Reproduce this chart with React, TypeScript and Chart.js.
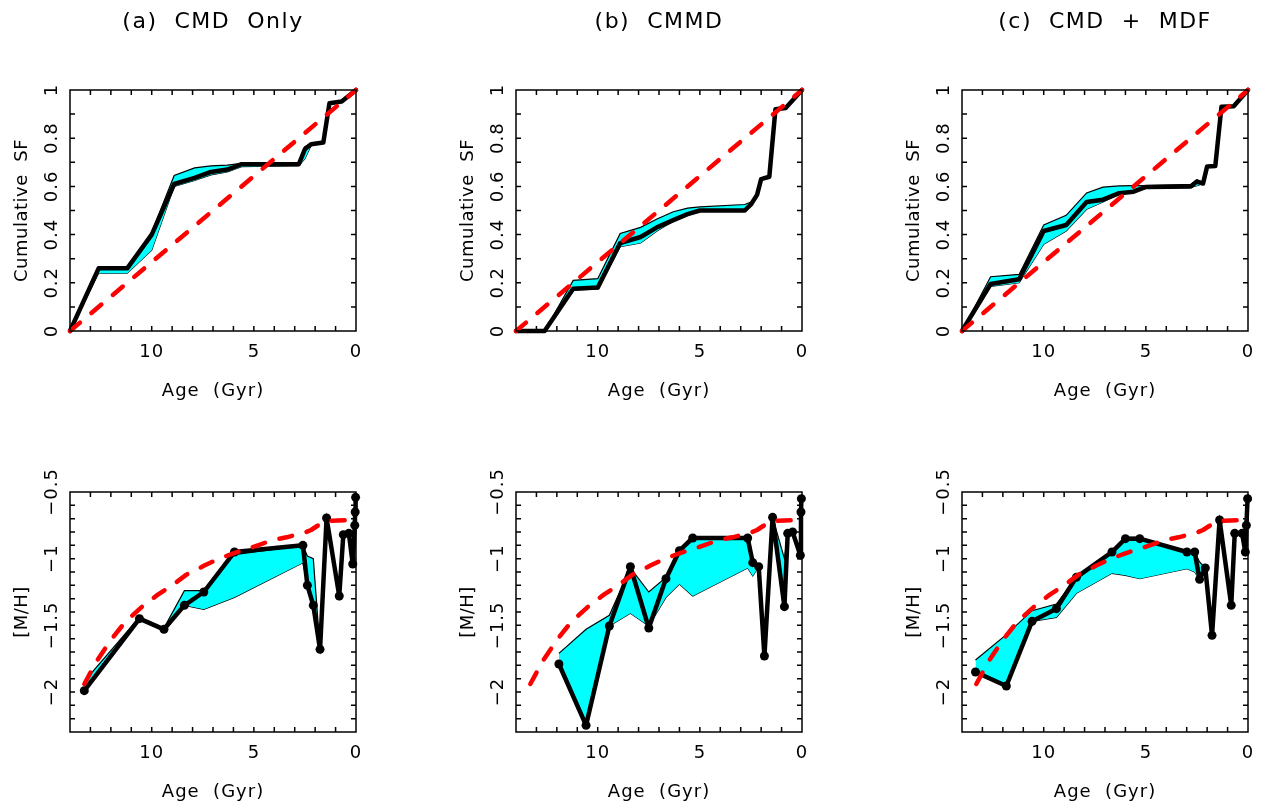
import React, { useEffect, useRef } from "react";
import { Chart, registerables } from "chart.js";

Chart.register(...registerables);

// ---------- tick labels ----------
const AGE_TICKS = [10, 5, 0];
const SF_TICKS = [0, 0.2, 0.4, 0.6, 0.8, 1];
const MH_TICKS = [-2, -1.5, -1, -0.5];
const TITLES = ["(a)  CMD  Only", "(b)  CMMD", "(c)  CMD  +  MDF"];
const X_TITLE = "Age  (Gyr)";
const Y_TITLE_SF = "Cumulative  SF";
const Y_TITLE_MH = "[M/H]";

// ---------- true (input) histories, red dashed ----------
const TRUTH_SF_AGE = [14, 0];
const TRUTH_SF = [0, 1];
const TRUTH_MH_AGE = [13.3, 12.7, 12.0, 11.3, 10.4, 9.7, 9.0, 8.3, 7.4, 6.7, 6.0, 5.3, 4.7, 4.1, 3.4, 2.9, 2.6, 2.2, 1.9, 1.6, 1.2, 0];
const TRUTH_MH = [-1.94, -1.77, -1.61, -1.475, -1.35, -1.27, -1.2, -1.12, -1.05, -1.0, -0.96, -0.925, -0.895, -0.86, -0.84, -0.82, -0.81, -0.785, -0.755, -0.725, -0.715, -0.71];

// ---------- (a) CMD only: cumulative SF ----------
const AGE_SF_A = [14, 12.6, 11.2, 10, 8.9, 7.9, 7.1, 6.3, 5.6, 2.8, 2.5, 2.2, 1.6, 1.3, 0.7, 0];
const SF_A_BEST = [0, 0.26, 0.26, 0.4, 0.61, 0.635, 0.66, 0.67, 0.692, 0.692, 0.755, 0.775, 0.782, 0.945, 0.952, 1];
const SF_A_HI = [0, 0.265, 0.265, 0.41, 0.645, 0.677, 0.685, 0.688, 0.696, 0.698, 0.765, 0.778, 0.785, 0.945, 0.952, 1];
const SF_A_LO = [0, 0.24, 0.24, 0.335, 0.6, 0.625, 0.648, 0.66, 0.682, 0.686, 0.715, 0.77, 0.782, 0.945, 0.952, 1];

// ---------- (b) CMMD: cumulative SF ----------
const AGE_SF_B = [14, 12.6, 11.2, 10, 8.9, 7.9, 7.1, 6.3, 5.6, 5.0, 2.8, 2.5, 2.2, 2.0, 1.6, 1.3, 0.8, 0];
const SF_B_BEST = [0, 0, 0.175, 0.18, 0.365, 0.39, 0.43, 0.46, 0.485, 0.5, 0.5, 0.525, 0.565, 0.63, 0.64, 0.92, 0.925, 1];
const SF_B_HI = [0, 0, 0.21, 0.217, 0.405, 0.43, 0.465, 0.495, 0.51, 0.515, 0.525, 0.535, 0.565, 0.63, 0.64, 0.92, 0.925, 1];
const SF_B_LO = [0, 0, 0.17, 0.175, 0.35, 0.365, 0.415, 0.455, 0.48, 0.497, 0.497, 0.52, 0.565, 0.63, 0.64, 0.92, 0.925, 1];

// ---------- (c) CMD + MDF: cumulative SF ----------
const AGE_SF_C = [14, 12.6, 11.2, 10, 8.9, 7.9, 7.1, 6.3, 5.6, 5.0, 2.8, 2.5, 2.2, 2.0, 1.6, 1.3, 0.7, 0];
const SF_C_BEST = [0, 0.195, 0.215, 0.415, 0.44, 0.535, 0.545, 0.572, 0.578, 0.598, 0.6, 0.62, 0.612, 0.683, 0.685, 0.93, 0.933, 1];
const SF_C_HI = [0, 0.225, 0.235, 0.44, 0.48, 0.573, 0.597, 0.602, 0.603, 0.603, 0.608, 0.628, 0.615, 0.683, 0.685, 0.93, 0.933, 1];
const SF_C_LO = [0, 0.185, 0.2, 0.36, 0.415, 0.505, 0.535, 0.568, 0.576, 0.592, 0.596, 0.603, 0.612, 0.683, 0.685, 0.93, 0.933, 1];

// ---------- (a) CMD only: [M/H] ----------
const AGE_MH_A = [13.3, 10.6, 9.4, 8.4, 7.45, 5.95, 2.6, 2.38, 2.09, 1.76, 1.44, 0.82, 0.62, 0.35, 0.16, 0.06, 0.04, 0.02];
const MH_A_BEST = [-1.99, -1.45, -1.53, -1.35, -1.25, -0.95, -0.9, -1.2, -1.35, -1.68, -0.695, -1.28, -0.82, -0.81, -1.04, -0.75, -0.65, -0.54];
const MH_A_HI = [-1.92, -1.44, -1.52, -1.24, -1.24, -0.97, -0.9, -0.98, -1.0, -1.68, -0.695, -1.28, -0.82, -0.81, -1.04, -0.75, -0.65, -0.54];
const MH_A_LO = [-1.99, -1.46, -1.54, -1.35, -1.38, -1.29, -1.03, -1.2, -1.35, -1.68, -0.695, -1.28, -0.82, -0.81, -1.04, -0.75, -0.65, -0.54];

// ---------- (b) CMMD: [M/H] ----------
const AGE_MH_B = [11.9, 10.57, 9.43, 8.4, 7.5, 6.66, 6.0, 5.35, 2.66, 2.41, 2.12, 1.84, 1.44, 0.86, 0.7, 0.46, 0.08, 0.05, 0.03];
const MH_B_BEST = [-1.79, -2.25, -1.505, -1.06, -1.52, -1.15, -0.94, -0.845, -0.845, -1.03, -1.06, -1.73, -0.69, -1.36, -0.81, -0.8, -0.975, -0.65, -0.55];
const MH_B_HI = [-1.71, -1.53, -1.425, -1.07, -1.25, -1.14, -0.93, -0.84, -0.84, -0.99, -1.06, -1.73, -0.69, -1.0, -0.81, -0.8, -0.975, -0.65, -0.55];
const MH_B_LO = [-1.79, -2.25, -1.505, -1.41, -1.505, -1.29, -1.19, -1.28, -1.07, -1.13, -1.06, -1.73, -0.69, -1.36, -0.81, -0.8, -0.975, -0.65, -0.55];

// ---------- (c) CMD + MDF: [M/H] ----------
const AGE_MH_C = [13.34, 11.83, 10.57, 9.38, 8.4, 6.66, 6.0, 5.3, 2.99, 2.61, 2.37, 2.09, 1.76, 1.39, 0.82, 0.65, 0.29, 0.13, 0.08, 0.02];
const MH_C_BEST = [-1.85, -1.955, -1.47, -1.375, -1.14, -0.95, -0.85, -0.85, -0.95, -0.95, -1.155, -1.07, -1.575, -0.71, -1.35, -0.81, -0.81, -0.95, -0.75, -0.55];
const MH_C_HI = [-1.76, -1.57, -1.39, -1.34, -1.14, -0.95, -0.84, -0.84, -0.95, -0.95, -1.025, -1.07, -1.575, -0.71, -1.35, -0.81, -0.81, -0.95, -0.75, -0.55];
const MH_C_LO = [-1.85, -1.955, -1.47, -1.44, -1.26, -1.11, -1.125, -1.15, -1.075, -1.1, -1.155, -1.07, -1.575, -0.71, -1.35, -0.81, -0.81, -0.95, -0.75, -0.55];

// ---------- layout ----------
const FONT = '"DejaVu Sans", "Liberation Sans", sans-serif';
const COL_LEFT = [0, 446, 892];
const CANVAS_W = 375;
const ROWS = [
  { top: 0, height: 405, pad: { left: 70, right: 19, top: 90, bottom: 74 } },
  { top: 405, height: 404, pad: { left: 70, right: 19, top: 87, bottom: 77 } },
];

type PanelDef = {
  col: number;
  row: number;
  title: string | null;
  yTitle: string;
  yMin: number;
  yMax: number;
  yTicks: number[];
  age: number[];
  best: number[];
  hi: number[];
  lo: number[];
  truthAge: number[];
  truth: number[];
  dots: boolean;
};

const PANELS: PanelDef[] = [
  { col: 0, row: 0, title: TITLES[0], yTitle: Y_TITLE_SF, yMin: 0, yMax: 1, yTicks: SF_TICKS, age: AGE_SF_A, best: SF_A_BEST, hi: SF_A_HI, lo: SF_A_LO, truthAge: TRUTH_SF_AGE, truth: TRUTH_SF, dots: false },
  { col: 1, row: 0, title: TITLES[1], yTitle: Y_TITLE_SF, yMin: 0, yMax: 1, yTicks: SF_TICKS, age: AGE_SF_B, best: SF_B_BEST, hi: SF_B_HI, lo: SF_B_LO, truthAge: TRUTH_SF_AGE, truth: TRUTH_SF, dots: false },
  { col: 2, row: 0, title: TITLES[2], yTitle: Y_TITLE_SF, yMin: 0, yMax: 1, yTicks: SF_TICKS, age: AGE_SF_C, best: SF_C_BEST, hi: SF_C_HI, lo: SF_C_LO, truthAge: TRUTH_SF_AGE, truth: TRUTH_SF, dots: false },
  { col: 0, row: 1, title: null, yTitle: Y_TITLE_MH, yMin: -2.3, yMax: -0.5, yTicks: MH_TICKS, age: AGE_MH_A, best: MH_A_BEST, hi: MH_A_HI, lo: MH_A_LO, truthAge: TRUTH_MH_AGE, truth: TRUTH_MH, dots: true },
  { col: 1, row: 1, title: null, yTitle: Y_TITLE_MH, yMin: -2.3, yMax: -0.5, yTicks: MH_TICKS, age: AGE_MH_B, best: MH_B_BEST, hi: MH_B_HI, lo: MH_B_LO, truthAge: TRUTH_MH_AGE, truth: TRUTH_MH, dots: true },
  { col: 2, row: 1, title: null, yTitle: Y_TITLE_MH, yMin: -2.3, yMax: -0.5, yTicks: MH_TICKS, age: AGE_MH_C, best: MH_C_BEST, hi: MH_C_HI, lo: MH_C_LO, truthAge: TRUTH_MH_AGE, truth: TRUTH_MH, dots: true },
];

const pts = (xs: number[], ys: number[]) => xs.map((x, i) => ({ x, y: ys[i] }));

const fmt = (v: number) => {
  const s = String(Math.round(v * 10) / 10);
  return s.replace("-", "\u2212");
};

function framePlugin(p: PanelDef) {
  return {
    id: "pgframe",
    afterDraw(chart: any) {
      const ctx: CanvasRenderingContext2D = chart.ctx;
      const { left, right, top, bottom } = chart.chartArea;
      const xs = chart.scales.x;
      const ys = chart.scales.y;
      ctx.save();
      ctx.strokeStyle = "#000";
      ctx.lineWidth = 1.5;
      ctx.strokeRect(left, top, right - left, bottom - top);
      const tick = 5;
      ctx.beginPath();
      for (let a = 1; a < 14; a++) {
        const px = xs.getPixelForValue(a);
        ctx.moveTo(px, bottom);
        ctx.lineTo(px, bottom - tick);
        ctx.moveTo(px, top);
        ctx.lineTo(px, top + tick);
      }
      const n = Math.round((p.yMax - p.yMin) * 10);
      for (let k = 1; k < n; k++) {
        const v = p.yMin + k / 10;
        const py = ys.getPixelForValue(v);
        ctx.moveTo(left, py);
        ctx.lineTo(left + tick, py);
        ctx.moveTo(right, py);
        ctx.lineTo(right - tick, py);
      }
      ctx.stroke();

      ctx.fillStyle = "#000";
      ctx.textAlign = "center";
      ctx.textBaseline = "middle";
      ctx.font = `18px ${FONT}`;
      (ctx as any).letterSpacing = "1px";
      for (const v of AGE_TICKS) {
        ctx.fillText(String(v), xs.getPixelForValue(v), bottom + 21);
      }
      ctx.fillText(X_TITLE, (left + right) / 2, bottom + 60);
      for (const v of p.yTicks) {
        ctx.save();
        ctx.translate(left - 18, ys.getPixelForValue(v));
        ctx.rotate(-Math.PI / 2);
        ctx.fillText(fmt(v), 0, 0);
        ctx.restore();
      }
      ctx.save();
      (ctx as any).letterSpacing = "0.5px";
      ctx.translate(left - 48, (top + bottom) / 2);
      ctx.rotate(-Math.PI / 2);
      ctx.fillText(p.yTitle, 0, 0);
      ctx.restore();
      if (p.title) {
        ctx.font = `22px ${FONT}`;
        (ctx as any).letterSpacing = "1.5px";
        ctx.fillText(p.title, (left + right) / 2, 22);
      }
      ctx.restore();
    },
  };
}

function PanelChart({ p }: { p: PanelDef }) {
  const ref = useRef<HTMLCanvasElement>(null);
  const row = ROWS[p.row];
  useEffect(() => {
    if (!ref.current) return;
    const chart = new Chart(ref.current, {
      type: "line",
      data: {
        datasets: [
          {
            data: pts(p.age, p.lo),
            borderColor: "#000",
            borderWidth: 1.2,
            pointRadius: 0,
            fill: false,
            order: 3,
            clip: false as any,
          },
          {
            data: pts(p.age, p.hi),
            borderColor: "#000",
            borderWidth: 1.2,
            pointRadius: 0,
            fill: "-1",
            backgroundColor: "#00ffff",
            order: 2,
            clip: false as any,
          },
          {
            data: pts(p.age, p.best),
            borderColor: "#000",
            borderWidth: 4.5,
            borderJoinStyle: "round",
            borderCapStyle: "round",
            pointRadius: p.dots ? 4.5 : 0,
            pointBackgroundColor: "#000",
            pointBorderColor: "#000",
            pointBorderWidth: 0,
            fill: false,
            order: 1,
            clip: false as any,
          },
          {
            data: pts(p.truthAge, p.truth),
            borderColor: "#ff0000",
            borderWidth: 4.5,
            borderDash: [13, 15],
            borderCapStyle: "round",
            borderJoinStyle: "round",
            pointRadius: 0,
            fill: false,
            order: 0,
            clip: false as any,
          },
        ],
      },
      options: {
        animation: false,
        responsive: true,
        maintainAspectRatio: false,
        events: [],
        layout: { padding: row.pad },
        plugins: {
          legend: { display: false },
          tooltip: { enabled: false },
          title: { display: false },
        },
        elements: { line: { tension: 0 } },
        scales: {
          x: { type: "linear", min: 0, max: 14, reverse: true, display: false },
          y: { type: "linear", min: p.yMin, max: p.yMax, display: false },
        },
      },
      plugins: [framePlugin(p)],
    } as any);
    return () => chart.destroy();
  }, [p]);
  return (
    <div
      style={{
        position: "absolute",
        left: COL_LEFT[p.col],
        top: row.top,
        width: CANVAS_W,
        height: row.height,
      }}
    >
      <canvas ref={ref} />
    </div>
  );
}

export default function App() {
  return (
    <div
      style={{
        position: "fixed",
        left: 0,
        top: 0,
        width: 1267,
        height: 809,
        background: "#fff",
        overflow: "hidden",
      }}
    >
      {PANELS.map((p, i) => (
        <PanelChart key={i} p={p} />
      ))}
    </div>
  );
}
